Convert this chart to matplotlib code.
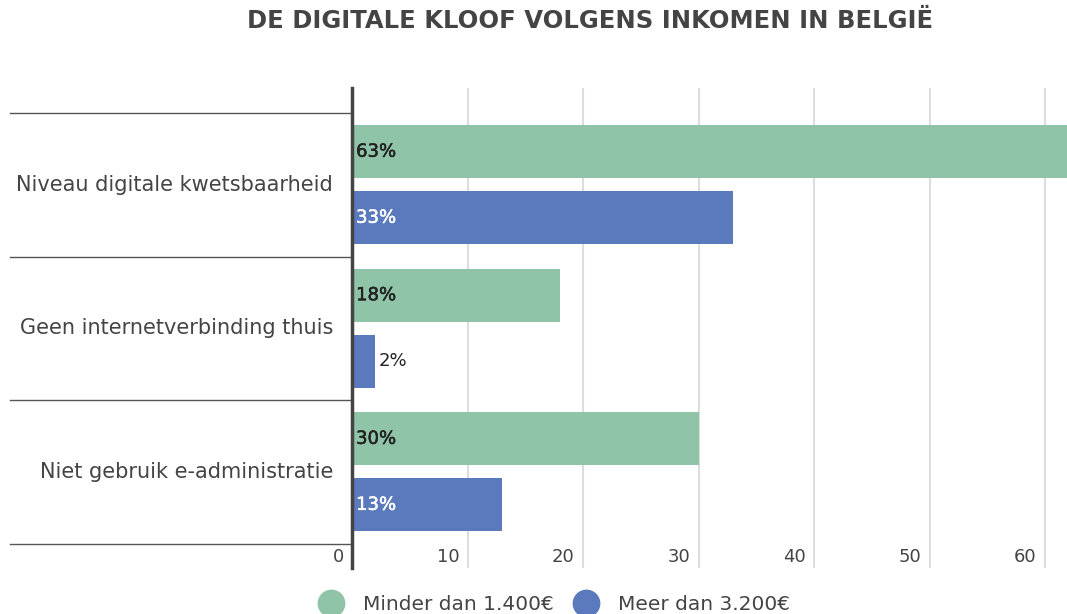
import matplotlib.pyplot as plt
from matplotlib.lines import Line2D
import matplotlib.transforms as mtransforms
import matplotlib.patheffects as pe

plt.rcParams['font.family'] = ['DejaVu Sans']

categories = ['Niveau digitale kwetsbaarheid', 'Geen internetverbinding thuis', 'Niet gebruik e-administratie']
low_income = [63, 18, 30]
high_income = [33, 2, 13]
series_names = ['Minder dan 1.400€', 'Meer dan 3.200€']
x_ticks = [0, 10, 20, 30, 40, 50, 60]

GREEN = '#8fc4a8'
BLUE = '#5b7abd'
TEXT = '#444444'

fig = plt.figure(figsize=(10.67, 6.14), dpi=100)
ax = fig.add_axes([0.3299, 0.0749, 0.6701, 0.7818])
ax.set_xlim(0, 61.9)
ax.set_ylim(2.67, -0.674)

bar_h = 0.37
for i, cat in enumerate(categories):
    ax.barh(i - 0.23, low_income[i], height=bar_h, color=GREEN, zorder=2)
    ax.barh(i + 0.23, high_income[i], height=bar_h, color=BLUE, zorder=2)
    # labels inside bars (outside if bar too small)
    for val, yy, txtc in [(low_income[i], i - 0.23, '#222222'),
                          (high_income[i], i + 0.23, 'white')]:
        if val >= 5:
            ax.text(0.35, yy, f'{val}%', ha='left', va='center', fontsize=13,
                    color=txtc, zorder=3,
                    path_effects=[pe.withStroke(linewidth=0.35, foreground=txtc)])
        else:
            ax.text(val + 0.3, yy, f'{val}%', ha='left', va='center', fontsize=13,
                    color='#222222', zorder=3)
    ax.text(-0.0265, i, cat, transform=mtransforms.blended_transform_factory(ax.transAxes, ax.transData),
            ha='right', va='center', fontsize=15, color=TEXT)

# category separators extending to the left
blend = mtransforms.blended_transform_factory(ax.transAxes, ax.transData)
for s in [-0.5, 0.5, 1.5, 2.5]:
    ax.plot([-0.478, 0], [s, s], transform=blend, color='#555555', lw=1, clip_on=False, zorder=1)

# vertical grid
for t in x_ticks[1:]:
    ax.axvline(t, color='#dddddd', lw=1.5, zorder=0)

# tick labels inside the bottom of the axes
for t in x_ticks:
    ax.annotate(str(t), xy=(t, 2.59), xytext=(-6, 0), textcoords='offset points',
                ha='right', va='center', fontsize=13, color=TEXT, annotation_clip=False)

ax.set_xticks([])
ax.set_yticks([])
for side in ['top', 'right', 'bottom']:
    ax.spines[side].set_visible(False)
ax.spines['left'].set_color('#444444')
ax.spines['left'].set_linewidth(2.5)

fig.text(0.553, 0.966, 'DE DIGITALE KLOOF VOLGENS INKOMEN IN BELGIË', ha='center', va='center',
         fontsize=17.5, fontweight='bold', color=TEXT)

handles = [Line2D([], [], marker='o', ls='', markersize=19, color=GREEN),
           Line2D([], [], marker='o', ls='', markersize=19, color=BLUE)]
fig.legend(handles, series_names, loc='center', bbox_to_anchor=(0.516, 0.016), ncol=2, frameon=False,
           fontsize=14.5, handletextpad=0.6, columnspacing=0.6, labelcolor=TEXT)

fig.savefig('out.png', dpi=100)
